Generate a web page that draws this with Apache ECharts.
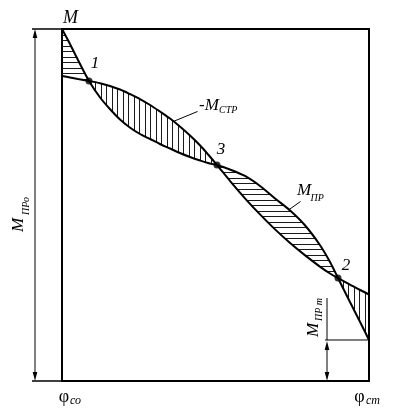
<!DOCTYPE html>
<html>
<head>
<meta charset="utf-8">
<script src="https://cdn.jsdelivr.net/npm/echarts@6/dist/echarts.min.js"></script>
<style>
html,body{margin:0;padding:0;background:#fff;}
#chart{width:395px;height:413px;}
</style>
</head>
<body>
<div id="chart"></div>
<script>
// Angle φ (from φ_со to φ_ст), in % of the range
const phi = [0,2.6,5.2,8.8,12.4,15.6,18.9,22.1,25.4,28.7,31.9,35.2,38.4,41.7,45.0,47.6,50.5,54.7,59.6,64.5,69.4,74.3,79.2,84.0,87.3,89.9,93.8,97.1,100];
// M_ПР curve, in % of M_ПРо
const mPr = [100,95.74,91.19,85.23,80.54,77.27,74.29,72.02,70.17,68.75,67.33,66.05,64.77,63.64,62.64,61.93,61.36,60.09,58.24,55.40,51.85,48.44,44.18,38.64,33.81,29.26,22.44,16.76,11.65];
// -M_СТР curve, in % of M_ПРо
const mStr = [86.65,86.22,85.80,85.23,84.60,83.81,82.81,81.53,80.11,78.41,76.56,74.57,72.30,69.74,66.90,64.35,61.36,56.85,51.90,47.33,43.07,39.20,35.68,32.50,30.54,29.26,27.41,25.85,24.57];
// intersection points (indices into the arrays) and their labels
const crossIdx = [3, 16, 25];
const crossLabels = ['1', '3', '2'];
// hatched regions: [start index, end index, hatch type 0=horizontal 1=vertical]
const regions = [[0,3,0],[3,16,1],[16,25,0],[25,28,1]];

function hatchCanvas(vertical){
  const c = document.createElement('canvas');
  c.width = 11; c.height = 11;
  const g = c.getContext('2d');
  g.fillStyle = '#1a1a1a';
  if (vertical){ g.fillRect(2,0,1,11); g.fillRect(7,0,1,11); }
  else { g.fillRect(0,2,11,1); g.fillRect(0,7,11,1); }
  return c;
}
const hH = hatchCanvas(false), hV = hatchCanvas(true);

const chart = echarts.init(document.getElementById('chart'), null, {renderer:'canvas'});
const serif = '"Liberation Serif", "DejaVu Serif", serif';

const option = {
  animation:false,
  backgroundColor:'#fff',
  grid:{left:62,right:26,top:29,bottom:32,show:true,borderColor:'#000',borderWidth:2,backgroundColor:'transparent'},
  xAxis:{type:'value',min:0,max:100,axisLine:{show:false},axisTick:{show:false},axisLabel:{show:false},splitLine:{show:false}},
  yAxis:{type:'value',min:0,max:100,axisLine:{show:false},axisTick:{show:false},axisLabel:{show:false},splitLine:{show:false}},
  series:[
    {
      type:'custom', z:1, clip:false,
      data: regions,
      renderItem:function(params, api){
        const s = api.value(0), e = api.value(1), t = api.value(2);
        const pts = [];
        for (let i=s;i<=e;i++) pts.push(api.coord([phi[i], mPr[i]]));
        for (let i=e;i>=s;i--) pts.push(api.coord([phi[i], mStr[i]]));
        return {type:'polygon', shape:{points:pts}, style:{fill:{image: t ? hV : hH, repeat:'repeat'}, stroke:null}};
      }
    },
    {type:'line', z:3, symbol:'none', smooth:0.3, lineStyle:{color:'#000',width:2}, data: phi.map((x,i)=>[x,mPr[i]])},
    {type:'line', z:3, symbol:'none', smooth:0.3, lineStyle:{color:'#000',width:2}, data: phi.map((x,i)=>[x,mStr[i]])},
    {type:'scatter', z:5, symbolSize:7, itemStyle:{color:'#000'}, data: crossIdx.map(i=>[phi[i], mPr[i]])}
  ]
};
chart.setOption(option);

const P = (x,y) => chart.convertToPixel({gridIndex:0},[x,y]);
const L = P(0,0)[0], R = P(100,0)[0], T = P(0,100)[1], B = P(0,0)[1];
const endY = P(100, mPr[mPr.length-1])[1];

function line(x1,y1,x2,y2,w){return {type:'line',z:10,shape:{x1,y1,x2,y2},style:{stroke:'#000',lineWidth:w||1}};}
function arrow(tx,ty,up){const d = up?9:-9; return {type:'polygon',z:10,shape:{points:[[tx,ty],[tx-2.3,ty+d],[tx+2.3,ty+d]]},style:{fill:'#000'}};}
function txt(x,y,s,size,opt){opt=opt||{};return {type:'text',z:10,x,y,style:{text:s,font:(opt.upright?'':'italic ')+size+'px '+serif,fill:'#000',align:opt.align||'left',verticalAlign:'middle'}};}

const dimX = L - 27;
const dimX2 = R - 42;
const graphics = [
  line(L-30,T,L,T,1.5), line(L-30,B,L,B,1.5),
  line(dimX,T+4,dimX,B-4,1), arrow(dimX,T,true), arrow(dimX,B,false),
  line(dimX2-2,endY,R,endY,1),
  line(dimX2,endY-42,dimX2,endY,1),
  line(dimX2,endY+6,dimX2,B-4,1), arrow(dimX2,endY+1,true), arrow(dimX2,B,false),
  // leader lines
  line(172,122,197.5,111.5,1), line(288.5,210,300.5,201.5,1),
  // labels
  txt(70.5,18,'M',18,{align:'center'}),
  txt(199,106,'-M',17), txt(219,110.5,'СТР',10),
  txt(297,191,'M',17), txt(310.5,198.5,'ПР',10),
  txt(64,397,'φ',18,{upright:true,align:'center'}), txt(70,400.5,'со',12),
  txt(359.5,397,'φ',18,{upright:true,align:'center'}), txt(366,400.5,'ст',12),
  {type:'group',x:25,y:232,rotation:Math.PI/2,children:[
    txt(0,-6,'M',17), txt(17,1.5,'ПРо',10)
  ]},
  {type:'group',x:320,y:337,rotation:Math.PI/2,children:[
    txt(0,-6.5,'M',17), txt(16,-1,'ПР т',10)
  ]}
];
const offs = [[6,-17],[4,-15],[8,-12]];
crossIdx.forEach((idx,k)=>{
  const p = P(phi[idx], mPr[idx]);
  graphics.push(txt(p[0]+offs[k][0], p[1]+offs[k][1], crossLabels[k], 17, {align:'center'}));
});
chart.setOption({graphic: graphics});
</script>
</body>
</html>
